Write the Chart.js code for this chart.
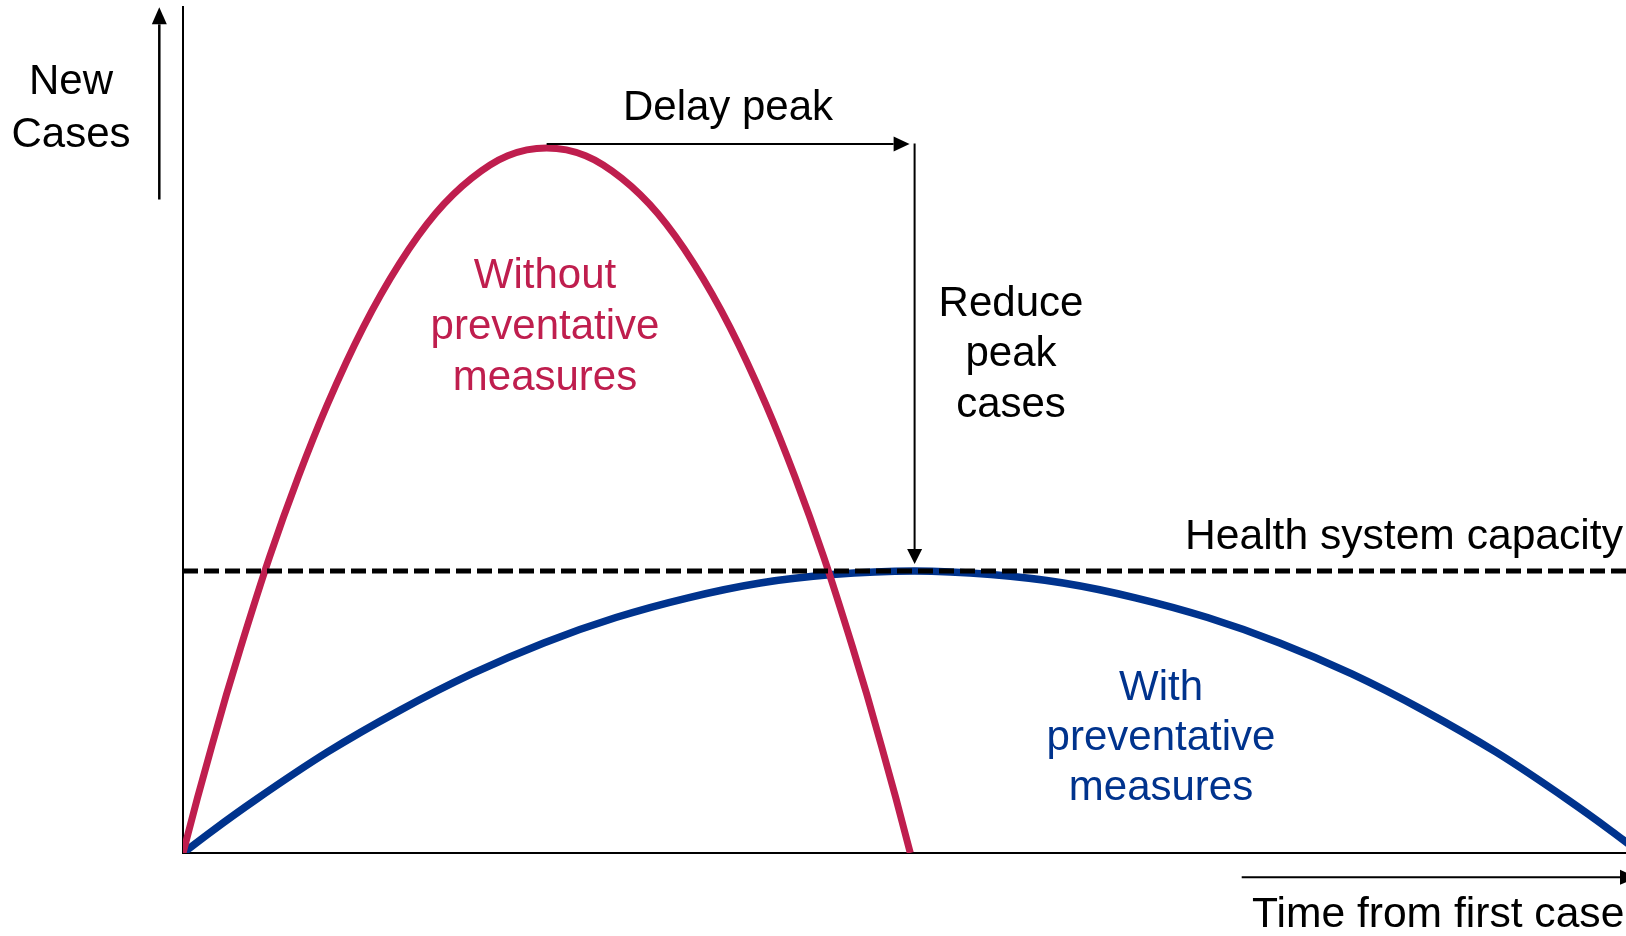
<!DOCTYPE html>
<html>
<head>
<meta charset="utf-8">
<script src="https://cdn.jsdelivr.net/npm/chart.js@4"></script>
<style>
  html, body { margin: 0; padding: 0; background: #ffffff; }
  #wrap { width: 1626px; height: 936px; position: relative; }
  canvas { display: block; }
</style>
</head>
<body>
<div id="wrap"><canvas id="c" width="1626" height="936"></canvas></div>
<script>
// ---- Data ----
// Time from first case (arbitrary units) and new cases, "without preventative measures"
const redTime  = [0, 1, 2, 3, 4, 6, 8, 10, 12.5, 15, 17.5, 20, 22.5, 25.2, 27.9, 30.4, 32.9, 35.4, 37.9, 40.4, 42.4, 44.4, 46.4, 47.4, 48.4, 49.4, 50.4];
const redCases = [0, 7.8, 15.2, 22.4, 29.2, 42.0, 53.4, 63.6, 74.6, 83.6, 90.7, 95.7, 98.9, 100, 98.9, 95.7, 90.7, 83.6, 74.6, 63.6, 53.4, 42.0, 29.2, 22.4, 15.2, 7.8, 0];

// "With preventative measures"
const blueTime  = [0, 2, 5, 10, 15, 20, 25, 30, 35, 40, 45, 50.7, 56, 61, 66, 71, 76, 81, 86, 91, 96, 99, 101];
const blueCases = [0, 3.1, 7.5, 14.3, 20.2, 25.4, 29.8, 33.4, 36.2, 38.3, 39.5, 40, 39.5, 38.3, 36.2, 33.4, 29.8, 25.4, 20.2, 14.3, 7.5, 3.1, 0];

// Health system capacity level
const capacityTime  = [0, 100];
const capacityLevel = [40, 40];

// Text labels
const yAxisLabel = ['New', 'Cases'];
const xAxisLabel = 'Time from first case';
const delayLabel = 'Delay peak';
const reduceLabel = ['Reduce', 'peak', 'cases'];
const capacityLabel = 'Health system capacity';
const redLabel = ['Without', 'preventative', 'measures'];
const blueLabel = ['With', 'preventative', 'measures'];

const RED = '#BF1E4E';
const BLUE = '#00338D';

const toPts = (xs, ys) => xs.map((v, i) => ({ x: v, y: ys[i] }));

const FAMILY = '"Liberation Sans", Arial, Helvetica, sans-serif';
const FONT = '42px ' + FAMILY;
const FONT_WIDE = '42.6px ' + FAMILY;

function arrow(ctx, x1, y1, x2, y2, lw, headLen, headW) {
  const ang = Math.atan2(y2 - y1, x2 - x1);
  const bx = x2 - headLen * Math.cos(ang);
  const by = y2 - headLen * Math.sin(ang);
  ctx.strokeStyle = '#000';
  ctx.fillStyle = '#000';
  ctx.lineWidth = lw;
  ctx.beginPath();
  ctx.moveTo(x1, y1);
  ctx.lineTo(bx, by);
  ctx.stroke();
  const px = -Math.sin(ang) * headW / 2, py = Math.cos(ang) * headW / 2;
  ctx.beginPath();
  ctx.moveTo(x2, y2);
  ctx.lineTo(bx + px, by + py);
  ctx.lineTo(bx - px, by - py);
  ctx.closePath();
  ctx.fill();
}

const annotations = {
  id: 'annotations',
  afterDraw(chart) {
    const { ctx, scales } = chart;
    const xs = scales.x, ys = scales.y;
    ctx.save();

    // peaks from data
    const rI = redCases.indexOf(Math.max(...redCases));
    const bI = blueCases.indexOf(Math.max(...blueCases));
    const redPeakX = xs.getPixelForValue(redTime[rI]);
    const bluePeakX = xs.getPixelForValue(blueTime[bI]);
    const capY = ys.getPixelForValue(capacityLevel[0]);
    const redPeakY = ys.getPixelForValue(redCases[rI]);

    // y-axis side arrow
    arrow(ctx, 159.3, 199.5, 159.3, 7.3, 2.5, 17, 15);
    // Delay peak arrow
    arrow(ctx, redPeakX, redPeakY - 4, bluePeakX - 5, redPeakY - 4, 2, 16, 15);
    // Reduce peak arrow
    arrow(ctx, bluePeakX, redPeakY - 4.5, bluePeakX, capY - 7, 2, 15, 15);
    // x-axis side arrow
    arrow(ctx, 1241.7, 877.3, 1637, 877.3, 2, 17, 15);

    ctx.font = FONT;
    ctx.textBaseline = 'alphabetic';

    ctx.fillStyle = '#000';
    ctx.textAlign = 'center';
    ctx.fillText(yAxisLabel[0], 71, 94.3);
    ctx.fillText(yAxisLabel[1], 71, 146.7);
    ctx.fillText(delayLabel, 728, 120);
    [316, 366, 417].forEach((b, i) => ctx.fillText(reduceLabel[i], 1011, b));

    ctx.font = FONT_WIDE;
    ctx.textAlign = 'left';
    ctx.fillText(capacityLabel, 1185, 549);
    ctx.fillText(xAxisLabel, 1252, 927);

    ctx.font = FONT;
    ctx.textAlign = 'center';
    ctx.fillStyle = RED;
    [288, 339, 390].forEach((b, i) => ctx.fillText(redLabel[i], 545, b));
    ctx.fillStyle = BLUE;
    [699.5, 750, 800].forEach((b, i) => ctx.fillText(blueLabel[i], 1161, b));

    ctx.restore();
  }
};

new Chart(document.getElementById('c'), {
  type: 'line',
  data: {
    datasets: [
      {
        label: 'Health system capacity',
        data: toPts(capacityTime, capacityLevel),
        borderColor: '#000',
        borderWidth: 5,
        borderDash: [15, 6],
        pointRadius: 0,
        fill: false,
        order: 0
      },
      {
        label: 'Without preventative measures',
        data: toPts(redTime, redCases),
        borderColor: RED,
        borderWidth: 7,
        pointRadius: 0,
        cubicInterpolationMode: 'monotone',
        fill: false,
        order: 1
      },
      {
        label: 'With preventative measures',
        data: toPts(blueTime, blueCases),
        borderColor: BLUE,
        borderWidth: 7.5,
        pointRadius: 0,
        cubicInterpolationMode: 'monotone',
        fill: false,
        order: 2
      }
    ]
  },
  options: {
    responsive: false,
    devicePixelRatio: 1,
    animation: false,
    events: [],
    layout: { padding: { left: 183, top: 7, right: 0, bottom: 83 } },
    plugins: { legend: { display: false }, tooltip: { enabled: false } },
    scales: {
      x: {
        type: 'linear', min: 0, max: 100,
        ticks: { display: false },
        grid: { display: false, drawTicks: false, tickLength: 0 },
        border: { display: true, color: '#000', width: 2 }
      },
      y: {
        type: 'linear', min: 0, max: 120,
        ticks: { display: false },
        grid: { display: false, drawTicks: false, tickLength: 0 },
        border: { display: true, color: '#000', width: 2 }
      }
    }
  },
  plugins: [annotations]
});
</script>
</body>
</html>
